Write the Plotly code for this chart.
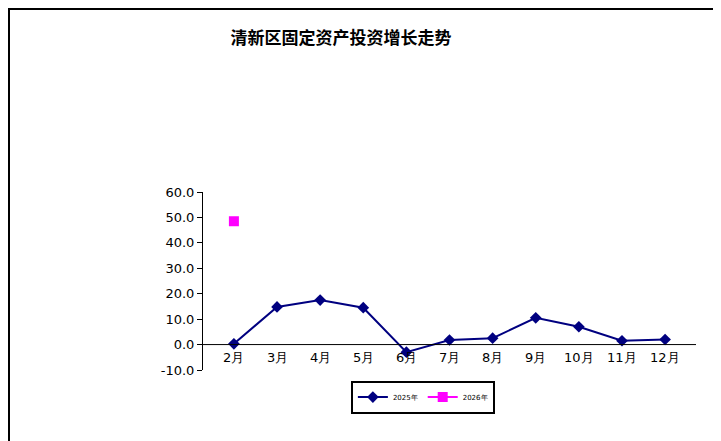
import plotly.graph_objects as go

months = ["2月","3月","4月","5月","6月","7月","8月","9月","10月","11月","12月"]
s2025 = [0.3, 14.8, 17.5, 14.5, -3.0, 1.8, 2.5, 10.5, 7.0, 1.5, 2.0]
s2026 = [48.5] + [None]*10
yticks = [-10, 0, 10, 20, 30, 40, 50, 60]

W, H = 493, 178
fig = go.Figure()
fig.add_trace(go.Scatter(x=months, y=s2025, name="2025年", mode="lines+markers",
    line=dict(color="#000080", width=2), marker=dict(symbol="diamond", size=9, color="#000080")))
fig.add_trace(go.Scatter(x=months, y=s2026, name="2026年", mode="lines+markers",
    line=dict(color="#FF00FF", width=2), marker=dict(symbol="square", size=10, color="#FF00FF")))
for m in months:
    fig.add_annotation(x=m, y=0, yanchor="top", yshift=-3, text=m, showarrow=False,
                       font=dict(size=13, color="black"))
fig.add_shape(type="line", xref="paper", yref="y", x0=0, x1=1, y0=0, y1=0, line=dict(color="black", width=1))
fig.add_shape(type="rect", xref="paper", yref="paper",
              x0=-194/W, x1=1 + 32/W, y0=-78/H, y1=1 + 183/H,
              line=dict(color="black", width=2))
fig.update_layout(
    width=721, height=441, paper_bgcolor="white", plot_bgcolor="white",
    margin=dict(l=195, r=33, t=184, b=79, autoexpand=False),
    title=dict(text="<b>清新区固定资产投资增长走势</b>", x=0.462, xanchor="center", y=0.932,
               yanchor="middle", font=dict(family="Noto Sans CJK SC", size=17, color="black")),
    font=dict(family="DejaVu Sans", size=12, color="black"),
    showlegend=True,
    legend=dict(orientation="h", x=0.446, xanchor="center", y=-0.152, yanchor="middle",
                bordercolor="black", borderwidth=2, font=dict(size=7), itemwidth=30,
                tracegroupgap=0),
    xaxis=dict(showticklabels=False, showgrid=False, showline=False, ticks=""),
    yaxis=dict(range=[-10, 60], tickvals=yticks, ticktext=[f"{v:.1f}" for v in yticks],
               showgrid=False, showline=True, linecolor="black", ticks="outside",
               ticklen=5, tickcolor="black", zeroline=False, tickfont=dict(size=13)),
)
fig.write_html("out.html")
